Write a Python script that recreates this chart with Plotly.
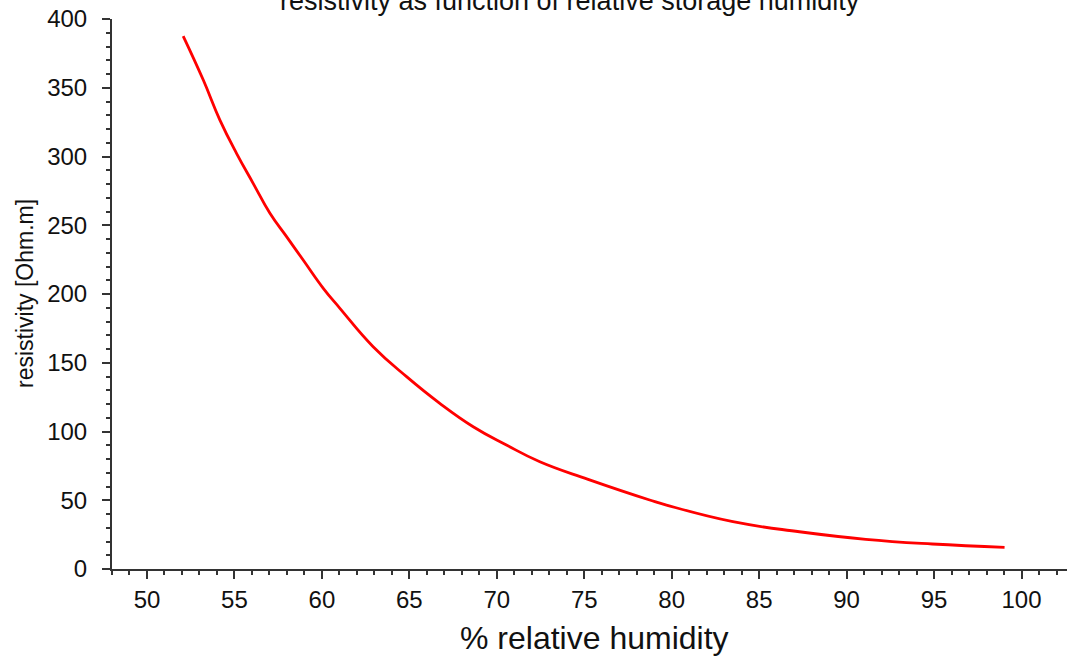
import plotly.graph_objects as go

humidity = [52.07, 53.22, 54.17, 55.12, 56.07, 57.03, 57.98, 58.93, 60.08, 61.03, 62.93,
            64.84, 66.74, 68.65, 70.55, 72.46, 75.22, 78.74, 79.7, 83.5, 87.3, 91.1, 94.9, 99.03]
resistivity = [387.6, 355.6, 326.5, 302.3, 280.5, 258.7, 241.7, 224.7, 204.1, 189.6, 161.7,
               139.9, 120.5, 103.5, 90.2, 78.0, 65.2, 50.2, 46.5, 34.4, 27.1, 21.6, 18.2, 15.8]

x_ticks = [50, 55, 60, 65, 70, 75, 80, 85, 90, 95, 100]
y_ticks = [0, 50, 100, 150, 200, 250, 300, 350, 400]

title_text = "resistivity as function of relative storage humidity"
x_title = "% relative humidity"
y_title = "resistivity [Ohm.m]"

axis_col = "#333333"
font_fam = "Liberation Sans, Arial, sans-serif"

fig = go.Figure()
fig.add_trace(go.Scatter(
    x=humidity, y=resistivity, mode="lines",
    line=dict(color="#ff0000", width=2.8, shape="spline", smoothing=1.3),
    showlegend=False, hoverinfo="skip"))

fig.update_layout(
    width=1067, height=656,
    margin=dict(l=112, r=0, t=19, b=87),
    paper_bgcolor="white", plot_bgcolor="white",
    font=dict(family=font_fam, color="#111111", size=24),
    showlegend=False,
)

fig.update_xaxes(
    range=[48, 102.6], tickvals=x_ticks, showgrid=False, zeroline=False,
    showline=True, linecolor=axis_col, linewidth=2,
    ticks="outside", ticklen=8, tickwidth=2, tickcolor=axis_col,
    ticklabelstandoff=0,
    tickfont=dict(size=24, family=font_fam, color="#111111"),
    minor=dict(ticks="outside", ticklen=4, tickwidth=1.5, tickcolor=axis_col, dtick=1, tick0=0, showgrid=False),
)
fig.update_yaxes(
    range=[0, 400], tickvals=y_ticks, showgrid=False, zeroline=False,
    showline=True, linecolor=axis_col, linewidth=2,
    ticks="outside", ticklen=8, tickwidth=2, tickcolor=axis_col,
    ticklabelstandoff=10,
    tickfont=dict(size=24, family=font_fam, color="#111111"),
    minor=dict(ticks="outside", ticklen=4, tickwidth=1.5, tickcolor=axis_col, dtick=10, tick0=0, showgrid=False),
)

fig.add_annotation(
    text=title_text, xref="paper", yref="paper", x=(570 - 112) / 955, y=1,
    xanchor="center", yanchor="middle", yshift=18, showarrow=False,
    font=dict(size=27, family=font_fam, color="#111111"))
fig.add_annotation(
    text=x_title, xref="paper", yref="paper", x=(594 - 112) / 955, y=0,
    xanchor="center", yanchor="middle", yshift=-69, showarrow=False,
    font=dict(size=32, family=font_fam, color="#111111"))
fig.add_annotation(
    text=y_title, xref="paper", yref="paper", x=0, y=0.5, textangle=-90,
    xanchor="center", yanchor="middle", xshift=-87, showarrow=False,
    font=dict(size=23, family="Liberation Sans Narrow, Arial Narrow, sans-serif", color="#111111"))

fig.write_html("out.html")
